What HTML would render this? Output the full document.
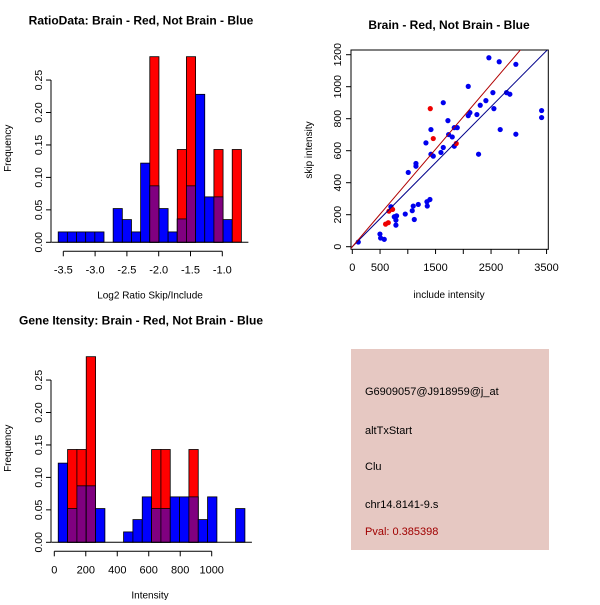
<!DOCTYPE html>
<html><head><meta charset="utf-8"><style>
body{margin:0;background:#fff}
svg{font-family:"Liberation Sans",sans-serif}
</style></head><body>
<svg id="c" width="600" height="600" viewBox="0 0 600 600" xmlns="http://www.w3.org/2000/svg">
<rect width="600" height="600" fill="#fff"/>
<g id="h1"></g>
<g id="h2"></g>
<g id="sc"></g>
<g>
<rect x="351" y="349" width="198" height="201" fill="#e6c8c2"/>
<g font-size="11" fill="#000">
<text x="365" y="395">G6909057@J918959@j_at</text>
<text x="365" y="434">altTxStart</text>
<text x="365" y="470">Clu</text>
<text x="365" y="508">chr14.8141-9.s</text>
<text x="365" y="535" fill="#a00000">Pval: 0.385398</text>
</g></g>
</svg>
<script>
// Histogram 1 data
const ratioBlue=[0.016,0.016,0.016,0.016,0.016,0,0.052,0.035,0.016,0.122,0.087,0.052,0.016,0.036,0.087,0.228,0.070,0.070,0.035,0];
const ratioRed=[0,0,0,0,0,0,0,0,0,0,0.286,0,0,0.143,0.286,0,0,0.143,0,0.143];
const ratioTicks=[-3.5,-3.0,-2.5,-2.0,-1.5,-1.0];
const ratioBinStart=-3.58, ratioBinWidth=0.144;
// Histogram 2 data
const intBlue=[0.122,0.052,0.087,0.087,0.052,0,0,0.016,0.035,0.070,0.052,0.052,0.070,0.070,0.070,0.035,0.070,0,0,0.052];
const intRed=[0,0.143,0.143,0.286,0,0,0,0,0,0,0.143,0.143,0,0,0.143,0,0,0,0,0];
const intTicks=[0,200,400,600,800,1000];
const intBinStart=25, intBinWidth=59.3;
const freqTicks=[0,0.05,0.10,0.15,0.20,0.25];
// Scatter data
const blueX=[108,498,510,576,696,756,786,786,798,954,1008,1080,1098,1117,1147,1147,1189,1327,1345,1351,1399,1417,1417,1459,1597,1639,1639,1723,1735,1801,1837,1837,1891,2089,2089,2119,2245,2275,2305,2407,2461,2533,2551,2647,2665,2779,2839,2947,2947,3411,3411];
const blueY=[29,79,54,46,250,187,166,135,193,204,464,225,254,170,520,503,264,649,281,254,295,732,578,566,589,900,620,788,701,686,744,628,744,1002,819,838,826,578,884,913,1181,963,863,1156,732,963,953,1140,703,851,807];
const redX=[1405,1459,660,726,600,648,1873];
const redY=[863,676,222,233,141,150,645];
const xTicks=[0,500,1500,2500,3500];
const yTicks=[0,200,400,600,800,1000,1200];
const blueSlope=0.35, redSlope=0.406;

const NS="http://www.w3.org/2000/svg";
function mk(p,t,a){const e=document.createElementNS(NS,t);for(const k in a)e.setAttribute(k,a[k]);p.appendChild(e);return e;}
function fmt(v){return v.toFixed(2);}

function hist(gid,blue,red,start,w,xs,x0px,ppu,y0,ticks,title,xlabel){
  const g=document.getElementById(gid);
  const ys=v=>y0-v*649;
  const xp=v=>x0px+(v-xs)*ppu;
  let t=mk(g,'text',{x:141,y:y0-218,'font-size':12,'font-weight':'bold','text-anchor':'middle'});t.textContent=title;
  
  
  for(let i=0;i<blue.length;i++){
    const a=start+i*w,xl=xp(a),xr=xp(a+w);
    const b=blue[i],r=red[i];
    if(b>0){const e=mk(g,'rect',{x:xl,y:ys(b),width:xr-xl,height:ys(0)-ys(b),fill:'#0000ff',stroke:'#000','stroke-width':0.8});
      
      }
    if(r>0){const e=mk(g,'rect',{x:xl,y:ys(r),width:xr-xl,height:ys(0)-ys(r),fill:'#ff0000',stroke:'#000','stroke-width':0.8});
      
      }
    if(b>0&&r>0){const m=Math.min(b,r);const e=mk(g,'rect',{x:xl,y:ys(m),width:xr-xl,height:ys(0)-ys(m),fill:'#800080',stroke:'#000','stroke-width':0.8});
      
      }
  }
  mk(g,'line',{x1:xp(start)-7,x2:xp(start+w*blue.length)+7,y1:y0,y2:y0,stroke:'#000'});
  mk(g,'line',{x1:51,x2:51,y1:ys(0),y2:ys(0.25),stroke:'#000'});
  freqTicks.forEach(v=>{mk(g,'line',{x1:46,x2:51,y1:ys(v),y2:ys(v),stroke:'#000'});
    const tt=mk(g,'text',{x:0,y:0,'font-size':10.5,'text-anchor':'middle',transform:`translate(42,${ys(v)}) rotate(-90)`});tt.textContent=fmt(v);
    
    });
  const yl=mk(g,'text',{x:0,y:0,'font-size':10,'text-anchor':'middle',transform:`translate(11,${y0-94}) rotate(-90)`});yl.textContent='Frequency';
  
  
  const ay=y0+9;
  mk(g,'line',{x1:xp(ticks[0]),x2:xp(ticks[ticks.length-1]),y1:ay,y2:ay,stroke:'#000'});
  ticks.forEach(v=>{mk(g,'line',{x1:xp(v),x2:xp(v),y1:ay,y2:ay+5,stroke:'#000'});
    const tt=mk(g,'text',{x:xp(v),y:ay+22,'font-size':11,'text-anchor':'middle'});tt.textContent=(gid==='h1')?v.toFixed(1):v;
    
    });
  const xl=mk(g,'text',{x:150,y:y0+56,'font-size':10,'text-anchor':'middle'});xl.textContent=xlabel;
  
  
}
hist('h1',ratioBlue,ratioRed,ratioBinStart,ratioBinWidth,-3.5,63.3,63.6,242.3,ratioTicks,'RatioData: Brain - Red, Not Brain - Blue','Log2 Ratio Skip/Include');
hist('h2',intBlue,intRed,intBinStart,intBinWidth,0,54.3,0.1574,542.3,intTicks,'Gene Itensity: Brain - Red, Not Brain - Blue','Intensity');

(function(){
  const g=document.getElementById('sc');
  const X=v=>352.3+v*0.0555, Y=v=>246.7-v*0.16;
  let t=mk(g,'text',{x:449,y:29,'font-size':12,'font-weight':'bold','text-anchor':'middle'});t.textContent='Brain - Red, Not Brain - Blue';
  
  
  mk(g,'rect',{x:351,y:50,width:197.3,height:199.3,fill:'none',stroke:'#000'});
  const clip=mk(g,'clipPath',{id:'cp'});mk(clip,'rect',{x:351,y:50,width:197.3,height:199.3});
  const inner=mk(g,'g',{'clip-path':'url(#cp)'});
  for(let i=0;i<blueX.length;i++){const c=mk(inner,'circle',{cx:X(blueX[i]),cy:Y(blueY[i]),r:2.6,fill:'#0000ee'});
    
    }
  for(let i=0;i<redX.length;i++){const c=mk(inner,'circle',{cx:X(redX[i]),cy:Y(redY[i]),r:2.6,fill:'#ee0000'});
    
    }
  let l=mk(inner,'line',{x1:X(-100),y1:Y(-100*blueSlope),x2:X(4000),y2:Y(4000*blueSlope),stroke:'#00008b','stroke-width':1});
  
  
  l=mk(inner,'line',{x1:X(-100),y1:Y(-100*redSlope),x2:X(4000),y2:Y(4000*redSlope),stroke:'#b00000','stroke-width':1});
  
  
  xTicks.forEach(v=>{mk(g,'line',{x1:X(v),x2:X(v),y1:249.3,y2:254,stroke:'#000'});
    const tt=mk(g,'text',{x:X(v),y:271,'font-size':11,'text-anchor':'middle'});tt.textContent=v;
    
    });
  [1000,2000,3000].forEach(v=>mk(g,'line',{x1:X(v),x2:X(v),y1:249.3,y2:254,stroke:'#000'}));
  yTicks.forEach(v=>{mk(g,'line',{x1:346,x2:351,y1:Y(v),y2:Y(v),stroke:'#000'});
    const tt=mk(g,'text',{x:0,y:0,'font-size':10.5,'text-anchor':'middle',transform:`translate(341,${Y(v)}) rotate(-90)`});tt.textContent=v;
    
    });
  let a=mk(g,'text',{x:449,y:298,'font-size':10,'text-anchor':'middle'});a.textContent='include intensity';
  
  
  a=mk(g,'text',{x:0,y:0,'font-size':10,'text-anchor':'middle',transform:'translate(312,150) rotate(-90)'});a.textContent='skip intensity';
  
  
})();
</script>
</body></html>
